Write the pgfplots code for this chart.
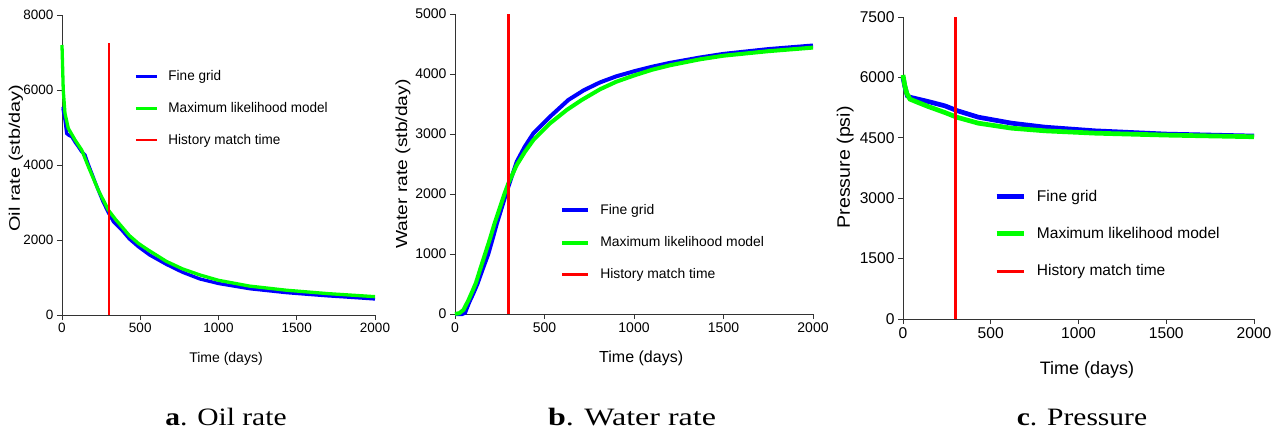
\documentclass[border=0pt]{standalone}
\usepackage{fontspec}
\setmainfont{Liberation Sans}
\newfontfamily\narrowfont[FakeStretch=0.965]{Liberation Sans}
\newfontfamily\labAfont[FakeStretch=1.3]{Liberation Sans}
\newfontfamily\labBfont[FakeStretch=1.2]{Liberation Sans}
\newfontfamily\labCfont[FakeStretch=1.09]{Liberation Sans}
\newfontfamily\capfont[FakeStretch=1.18]{Liberation Serif}
\newfontfamily\capbfont[FakeStretch=1.28]{Liberation Serif}
\usepackage{pgfplots}
\pgfplotsset{compat=1.18}
\definecolor{axgray}{HTML}{333333}
\definecolor{fineblue}{HTML}{0000FF}
\definecolor{mlgreen}{HTML}{00FF00}
\definecolor{hmred}{HTML}{FF0000}
\pgfplotsset{
  myaxis/.style={
    scale only axis, anchor=south west,
    axis x line=bottom, axis y line=left,
    axis line style={-, line width=0.9pt, draw=axgray},
    tick style={line width=0.9pt, draw=axgray},
    tick align=outside, major tick length=5pt,
    enlargelimits=false, clip=false,
    xmin=0, xmax=2000, xtick={0,500,1000,1500,2000},
    /pgf/number format/assume math mode=true,
    /pgf/number format/1000 sep={},
    scaled ticks=false,
    legend cell align=left,
  },
}
\begin{document}
\begin{tikzpicture}
\useasboundingbox (0,0) rectangle (1287pt,434pt);
% ---------------- a. Oil rate
\begin{axis}[myaxis, at={(62pt,119pt)}, width=313pt, height=300pt,
  ymin=0, ymax=8000, ytick={0,2000,4000,6000,8000},
  tick label style={font=\fontsize{13.5}{15}\selectfont},
  xlabel={Time (days)}, ylabel={Oil rate (stb/day)},
  xlabel style={at={(axis description cs:0.524,-0.147)}, anchor=center, font=\fontsize{14}{16}\selectfont},
  ylabel style={at={(axis description cs:-0.147,0.523)}, anchor=center, font=\labAfont\fontsize{15.3}{17}\selectfont},
  legend style={at={(axis description cs:0.230,0.815)}, anchor=north west, draw=none, fill=none,
    font=\narrowfont\fontsize{14}{16}\selectfont, row sep=20pt, column sep=10pt, inner sep=0pt,
    nodes={inner sep=0pt}},
  legend image code/.code={\draw[#1] (0pt,0pt) -- (21pt,0pt);},
]
\addplot[fineblue, line width=3.3pt] coordinates {
(0,5500)(6,5510)(19,5200)(30,4840)(45,4790)(62,4756)(85,4600)(104,4490)(125,4360)(147,4270)(165,4050)(190,3780)(210,3560)(232,3330)(260,3040)(296,2730)(330,2480)(381,2270)(430,2030)(488,1820)(560,1600)(667,1350)(770,1140)(882,960)(1000,840)(1200,700)(1436,595)(1700,510)(1850,470)(2000,427)};
\addlegendentry{Fine grid}
\addplot[mlgreen, line width=3.3pt] coordinates {
(0,7200)(8,6000)(19,5380)(40,4980)(83,4670)(126,4400)(168,3960)(232,3330)(296,2800)(340,2560)(381,2360)(430,2120)(488,1910)(552,1730)(667,1430)(770,1230)(882,1067)(1000,925)(1200,770)(1436,660)(1700,570)(2000,489)};
\addlegendentry{Maximum likelihood model}
\addplot[hmred, line width=2pt] coordinates {(300,0)(300,7250)};
\addlegendentry{History match time}
\end{axis}
% ---------------- b. Water rate
\begin{axis}[myaxis, at={(455pt,120pt)}, width=358pt, height=300pt,
  ymin=0, ymax=5000, ytick={0,1000,2000,3000,4000,5000},
  tick label style={font=\fontsize{14}{16}\selectfont},
  xlabel={Time (days)}, ylabel={Water rate (stb/day)},
  xlabel style={at={(axis description cs:0.52,-0.147)}, anchor=center, font=\fontsize{16}{18}\selectfont},
  ylabel style={at={(axis description cs:-0.145,0.5)}, anchor=center, font=\labBfont\fontsize{16}{18}\selectfont},
  legend style={at={(axis description cs:0.2936,0.365)}, anchor=north west, draw=none, fill=none,
    font=\fontsize{13.9}{16}\selectfont, row sep=20.5pt, column sep=10pt, inner sep=0pt,
    nodes={inner sep=0pt}},
  legend image code/.code={\draw[#1] (0pt,0pt) -- (26pt,0pt);},
]
\addplot[fineblue, line width=4pt] coordinates {
(0,0)(40,0)(56,20)(80,200)(102,340)(125,500)(155,750)(186,1000)(210,1250)(233,1500)(260,1760)(285,2000)(298,2122)(345,2539)(390,2790)(438,3011)(531,3289)(633,3567)(720,3730)(810,3860)(900,3960)(1000,4045)(1100,4120)(1200,4185)(1369,4275)(1500,4335)(1750,4415)(2000,4475)};
\addlegendentry{Fine grid}
\addplot[mlgreen, line width=4pt] coordinates {
(0,0)(25,15)(47,67)(75,230)(100,400)(117,520)(140,740)(168,1000)(195,1250)(220,1500)(248,1750)(276,2000)(298,2178)(345,2483)(390,2700)(438,2900)(531,3178)(624,3400)(708,3567)(810,3745)(900,3870)(1000,3975)(1100,4070)(1200,4145)(1369,4245)(1500,4305)(1750,4380)(2000,4440)};
\addlegendentry{Maximum likelihood model}
\addplot[hmred, line width=2.7pt] coordinates {(300,0)(300,5000)};
\addlegendentry{History match time}
\end{axis}
% ---------------- c. Pressure
\begin{axis}[myaxis, at={(903pt,115pt)}, width=351pt, height=302pt,
  ymin=0, ymax=7500, ytick={0,1500,3000,4500,6000,7500},
  tick label style={font=\fontsize{15.6}{18}\selectfont},
  xlabel={Time (days)}, ylabel={Pressure (psi)},
  xlabel style={at={(axis description cs:0.524,-0.169)}, anchor=center, font=\fontsize{18}{20}\selectfont},
  ylabel style={at={(axis description cs:-0.165,0.502)}, anchor=center, font=\labCfont\fontsize{18}{20}\selectfont},
  legend style={at={(axis description cs:0.2595,0.427)}, anchor=north west, draw=none, fill=none,
    font=\fontsize{15.5}{18}\selectfont, row sep=24.5pt, column sep=11pt, inner sep=0pt,
    nodes={inner sep=0pt}},
  legend image code/.code={\draw[#1] (0pt,0pt) -- (27pt,0pt);},
]
\addplot[fineblue, line width=4.7pt] coordinates {
(0,6000)(10,5780)(25,5540)(40,5508)(144,5400)(239,5293)(306,5177)(429,5012)(619,4863)(809,4764)(1094,4673)(1500,4592)(2000,4543)};
\addlegendentry{Fine grid}
\addplot[mlgreen, line width=4.7pt] coordinates {
(0,6060)(10,5800)(21,5607)(40,5458)(144,5276)(239,5127)(306,5012)(429,4863)(619,4739)(809,4673)(1094,4615)(1500,4567)(2000,4526)};
\addlegendentry{Maximum likelihood model}
\addplot[hmred, line width=3pt] coordinates {(300,0)(300,7500)};
\addlegendentry{History match time}
\end{axis}
% ---------------- captions
\node[anchor=base, inner sep=0pt] at (226pt,9pt) {\capfont\fontsize{25}{28}\selectfont\textbf{a}. Oil rate};
\node[anchor=base, inner sep=0pt] at (632pt,9pt) {\capbfont\fontsize{25}{28}\selectfont\textbf{b}. Water rate};
\node[anchor=base, inner sep=0pt] at (1082pt,9pt) {\capfont\fontsize{25}{28}\selectfont\textbf{c}. Pressure};
\end{tikzpicture}
\end{document}
